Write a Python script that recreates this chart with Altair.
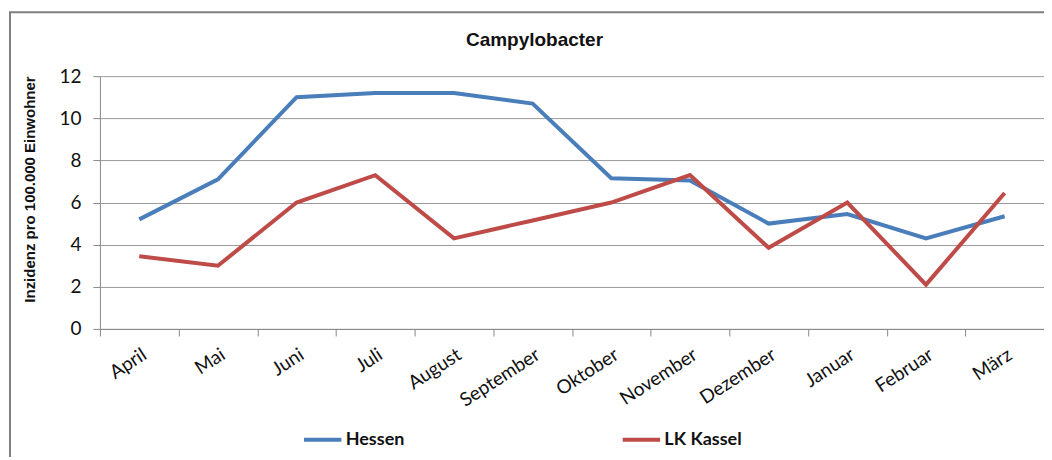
import altair as alt
import pandas as pd

months = ["April", "Mai", "Juni", "Juli", "August", "September",
          "Oktober", "November", "Dezember", "Januar", "Februar", "März"]
hessen = [5.2, 7.1, 11.0, 11.2, 11.2, 10.7, 7.15, 7.05, 5.0, 5.45, 4.3, 5.35]
kassel = [3.45, 3.0, 6.0, 7.3, 4.3, 5.15, 6.0, 7.3, 3.85, 6.0, 2.1, 6.45]
series = ["Hessen", "LK Kassel"]
colors = ["#4A7EBB", "#BE4B48"]
y_ticks = [0, 2, 4, 6, 8, 10, 12]
title_text = "Campylobacter"
y_title = "Inzidenz pro 100.000 Einwohner"

rows = []
for s, vals in zip(series, [hessen, kassel]):
    for m, v in zip(months, vals):
        rows.append({"Monat": m, "Wert": v, "Serie": s})
df = pd.DataFrame(rows)

FONT = "Lato"
BOLD_FONT = "Liberation Sans"

lines = alt.Chart(df).mark_line(strokeWidth=4, strokeJoin="miter").encode(
    x=alt.X("Monat:N", sort=months, title=None,
            scale=alt.Scale(paddingInner=0, paddingOuter=0),
            axis=alt.Axis(labelAngle=-33, labelFontSize=19, labelFont=FONT,
                          labelColor="#111", tickBand="extent", tickSize=7,
                          tickColor="#888", domainColor="#888", labelPadding=9,
                          grid=False)),
    y=alt.Y("Wert:Q", title=y_title,
            scale=alt.Scale(domain=[0, 12], nice=False),
            axis=alt.Axis(values=y_ticks, labelFontSize=19, labelFont=FONT,
                          labelColor="#111", tickSize=7, tickColor="#888",
                          domainColor="#888", gridColor="#9a9a9a",
                          labelPadding=12, titleFont=BOLD_FONT, titleFontSize=15,
                          titleFontWeight="bold", titleColor="#111",
                          titleX=-70, titleY=113, titleAlign="center",
                          titleBaseline="middle", titleAngle=270)),
    color=alt.Color("Serie:N", sort=series,
                    scale=alt.Scale(domain=series, range=colors),
                    legend=alt.Legend(title=None, orient="none", legendX=202,
                                      legendY=343, direction="horizontal",
                                      symbolType="stroke", symbolSize=1400,
                                      symbolStrokeWidth=4, labelFont=FONT,
                                      labelFontSize=18, labelFontWeight="bold",
                                      labelColor="#111", labelOffset=2,
                                      columnPadding=210, padding=0)),
)

frame = alt.Chart(pd.DataFrame({"a": [0]})).mark_rect(
    filled=False, stroke="#7f7f7f", strokeWidth=2
).encode(x=alt.value(-90), x2=alt.value(1100), y=alt.value(-64), y2=alt.value(600))

title = alt.Chart(pd.DataFrame({"t": [title_text]})).mark_text(
    font=BOLD_FONT, fontSize=19, fontWeight="bold", color="#111",
    baseline="alphabetic"
).encode(text="t:N", x=alt.value(435), y=alt.value(-30))

chart = alt.layer(frame, lines, title).properties(
    width=945, height=253,
    autosize=alt.AutoSizeParams(type="none"),
    padding={"left": 92, "top": 68, "right": 0, "bottom": 128},
).configure_view(stroke=None)

chart.save("out.html", embed_options={"renderer": "svg", "actions": False})
